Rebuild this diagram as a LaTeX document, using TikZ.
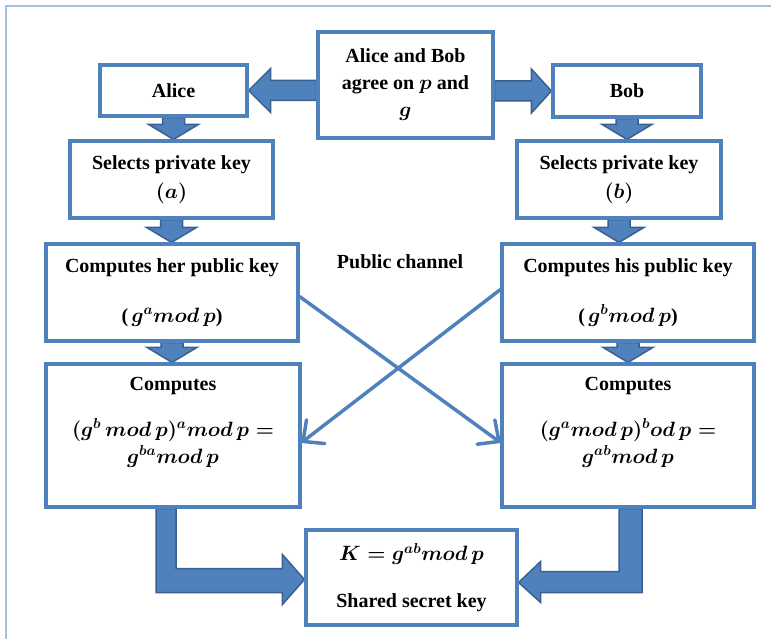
\documentclass[tikz,border=0pt]{standalone}
\usepackage{fontspec}
\setmainfont{Liberation Serif}
\usetikzlibrary{calc,arrows.meta}
\definecolor{boxblue}{HTML}{4F81BD}
\definecolor{arrdark}{HTML}{3A6090}
\definecolor{framecol}{HTML}{9DC3E6}
\pgfdeclarelayer{bg}
\pgfsetlayers{bg,main}
% down block arrow from #1 to #2
\newcommand\blkdown[2]{\filldraw[blk] let \p1=(#1), \p2=(#2) in
  (\x1-11pt,\y1) -- (\x1+11pt,\y1) -- (\x1+11pt,\y2+15pt) -- (\x1+25pt,\y2+15pt)
  -- (\x1,\y2) -- (\x1-25pt,\y2+15pt) -- (\x1-11pt,\y2+15pt) -- cycle;}
% horizontal block arrow from #1 to #2, #3 = signed head length
\newcommand\blkh[3]{\filldraw[blk] let \p1=(#1), \p2=(#2) in
  (\x1,\y2+10pt) -- (\x2#3,\y2+10pt) -- (\x2#3,\y2+22pt) -- (\x2,\y2)
  -- (\x2#3,\y2-22pt) -- (\x2#3,\y2-10pt) -- (\x1,\y2-10pt) -- cycle;}
\begin{document}
\begin{tikzpicture}[x=1pt,y=-1pt,
  box/.style={draw=boxblue, line width=3.2pt, fill=white, inner sep=0pt,
    font=\fontsize{20}{27}\selectfont\bfseries\boldmath, align=center},
  txt/.style={font=\fontsize{20}{27}\selectfont\bfseries\boldmath, align=center, inner sep=0pt},
  blk/.style={fill=boxblue, draw=arrdark, line width=1.5pt},
  cross/.style={draw=boxblue, line width=3.5pt,
    -{Straight Barb[length=16pt,width=30pt,line width=3.5pt,round]}}]
\useasboundingbox (0,0) rectangle (771,639);
\draw[framecol, line width=2.2pt] (771,6) -- (6,6) -- (6,639);

\node[box, minimum width=175pt, minimum height=106pt] (agree) at (405.5,85)
  {Alice and Bob\\agree on $p$ and\\$g$};
\node[box, minimum width=147pt, minimum height=51pt] (alice) at (173.5,90.5) {Alice};
\node[box, minimum width=148pt, minimum height=52pt] (bob) at (627,91) {Bob};
\node[box, minimum width=203pt, minimum height=77pt] (selA) at (171.5,179.5)
  {Selects private key\\[2pt]$(a)$};
\node[box, minimum width=204pt, minimum height=77pt] (selB) at (619,179.5)
  {Selects private key\\[2pt]$(b)$};
\node[box, minimum width=252pt, minimum height=97pt] (pubA) at (172,292.5)
  {Computes her public key\\[23pt](\,$g^{a}mod\,p$)};
\node[box, minimum width=252pt, minimum height=97pt] (pubB) at (628,292.5)
  {Computes his public key\\[23pt](\,$g^{b}mod\,p$)};
\node[box, minimum width=254pt, minimum height=143pt] (compA) at (173,435.5) {};
\node[box, minimum width=252pt, minimum height=143pt] (compB) at (628,435.5) {};
\node[box, minimum width=211pt, minimum height=95pt] (shared) at (411.5,577.5)
  {$K=g^{ab}mod\,p$\\[20pt]Shared secret key};

\node[txt] (compAt) at ($(compA.north)+(0,60)$)
  {Computes\\[19pt]$(g^{b}\,mod\,p)^{a}mod\,p=$\\$g^{ba}mod\,p$};
\node[txt] (compBt) at ($(compB.north)+(0,60)$)
  {Computes\\[19pt]$(g^{a}mod\,p)^{b}od\,p=$\\$g^{ab}mod\,p$};
\node[txt] (pc) at (400,262) {Public channel};

\begin{pgfonlayer}{bg}
  \blkh{agree.west |- alice.east}{alice.east}{+22pt}
  \blkh{agree.east |- bob.west}{bob.west}{-20pt}
  \blkdown{alice.south}{selA.north}
  \blkdown{selA.south}{pubA.north}
  \blkdown{pubA.south}{compA.north}
  \blkdown{bob.south}{selB.north}
  \blkdown{selB.south}{pubB.north}
  \blkdown{pubB.south}{compB.north}
  \filldraw[blk] let \p1=(compA.south), \p2=(shared.west) in
    (\x1-17pt,\y1) -- (\x1+3pt,\y1) -- (\x1+3pt,\y2+9pt) -- (\x2-22pt,\y2+9pt)
    -- (\x2-22pt,\y2+23pt) -- (\x2,\y2-2pt) -- (\x2-22pt,\y2-27pt)
    -- (\x2-22pt,\y2-15pt) -- (\x1-17pt,\y2-15pt) -- cycle;
  \filldraw[blk] let \p1=(compB.south), \p2=(shared.east) in
    (\x1+14pt,\y1) -- (\x1-9pt,\y1) -- (\x1-9pt,\y2+6pt) -- (\x2+22pt,\y2+6pt)
    -- (\x2+22pt,\y2+16pt) -- (\x2,\y2-5pt) -- (\x2+22pt,\y2-25pt)
    -- (\x2+22pt,\y2-15pt) -- (\x1+14pt,\y2-15pt) -- cycle;
\end{pgfonlayer}

\draw[cross] ($(pubA.east)+(0,4)$) -- ($(compB.west)+(0,7)$);
\draw[cross] ($(pubB.west)+(0,-3)$) -- ($(compA.east)+(0,7)$);
\end{tikzpicture}
\end{document}
